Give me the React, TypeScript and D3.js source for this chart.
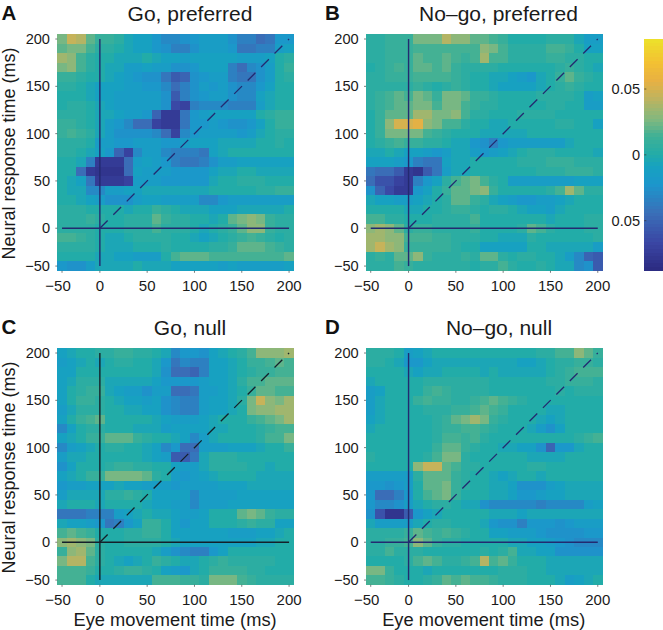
import React from "react";
import * as d3 from "d3";

// Cell values in units of 0.005, rows top (200 ms) to bottom (-40 ms), columns left (-40 ms) to right (200 ms)
const valueUnit = 0.005;
const goPreferred = [
  [5,9,8,4,2,2,1,-1,-2,-2,-4,-6,-6,-5,-4,-3,-3,-3,-5,-7,-7,-9,-8,-4,-4],
  [4,5,5,3,1,1,0,-1,-2,-2,-4,-5,-7,-7,-5,-3,-3,-3,-4,-8,-8,-7,-7,-3,-2],
  [7,6,3,1,0,0,-1,-1,-1,0,-1,-2,-2,-3,-2,-2,-2,-2,-2,-3,-3,-3,-2,0,1],
  [5,6,3,1,0,-1,-1,-3,-3,-2,-3,-3,-5,-5,-4,-2,-2,-2,-7,-9,-6,-5,-3,0,2],
  [2,2,1,0,0,-1,-2,-3,-4,-5,-5,-8,-11,-10,-5,-4,-3,-3,-7,-8,-8,-5,-3,0,1],
  [1,1,0,-1,-2,-2,-2,-3,-3,-4,-4,-6,-9,-7,-5,-3,-4,-3,-5,-6,-6,-4,-2,0,0],
  [0,0,0,-1,-2,-2,-3,-3,-3,-3,-3,-5,-11,-7,-5,-4,-3,-3,-5,-6,-6,-2,-1,0,0],
  [0,1,1,0,-1,-2,-3,-3,-3,-3,-3,-5,-13,-14,-7,-6,-6,-6,-7,-7,-7,-3,-1,0,0],
  [1,1,1,0,-1,-1,-2,-3,-3,-4,-10,-15,-15,-8,-4,-3,-2,-2,-2,-2,-2,0,1,2,2],
  [2,2,1,0,-1,-3,-4,-6,-9,-9,-14,-15,-15,-8,-4,-4,-3,-4,-5,-5,-4,-2,0,2,2],
  [2,3,2,1,-1,-3,-5,-5,-5,-5,-6,-9,-14,-6,-4,-3,-3,-3,-3,-4,-3,-1,0,1,1],
  [1,1,1,0,-3,-3,-4,-4,-3,-3,-3,-4,-4,-3,-2,-2,-2,-1,-1,-1,-1,0,0,1,0],
  [1,1,0,-1,-2,-4,-10,-14,-6,-3,-3,-6,-7,-7,-7,-8,-2,-1,0,0,0,0,0,0,0],
  [0,0,-1,-7,-15,-15,-15,-9,-3,-2,-3,-4,-7,-8,-8,-7,-5,-3,-3,-2,-2,-2,-2,-2,-2],
  [0,0,-9,-15,-16,-16,-16,-9,-2,-3,-3,-3,-4,-4,-4,-4,-2,-1,-1,0,0,-1,-1,-1,-1],
  [0,-1,-2,-8,-15,-15,-15,-14,-3,-3,-3,-4,-4,-4,-4,-4,-1,0,0,1,1,1,0,0,0],
  [0,-1,-1,-6,-6,-3,-3,-2,-2,-1,-1,-1,-1,-1,-1,-1,0,0,0,0,0,1,1,2,2],
  [0,0,-1,-2,-3,-5,-5,-5,-3,-2,-2,-3,-3,-3,-3,-6,-6,-4,-3,-3,-3,-3,-3,-3,-3],
  [1,1,1,0,0,0,0,-1,0,0,2,1,0,-1,-1,-1,-2,-2,-2,-1,-1,-1,-1,-1,0],
  [1,1,1,2,1,0,0,1,1,1,4,2,1,1,0,0,-1,0,4,5,6,5,2,1,1],
  [1,1,1,1,0,0,0,1,1,1,3,1,1,1,0,-1,0,1,2,4,6,6,2,1,1],
  [3,3,2,1,0,-1,-1,0,1,1,1,1,0,0,-1,-2,-1,0,1,2,3,2,1,0,1],
  [1,1,1,1,0,-1,-1,-1,0,0,0,1,0,0,0,0,1,1,2,4,4,4,3,2,1],
  [0,0,0,0,-1,-1,-2,-2,-3,-3,-3,0,3,4,4,4,3,3,3,3,3,3,3,3,4],
  [-4,-5,-5,-3,-1,-1,-1,-1,0,-1,-1,-1,-2,-2,-2,-2,-2,-3,-2,-3,-3,-3,-3,-3,-2],
];
const noGoPreferred = [
  [1,1,2,2,2,5,5,5,8,6,6,4,4,3,2,0,0,0,0,1,1,1,-1,-3,-3],
  [1,1,2,2,2,3,3,3,3,3,3,3,6,5,3,1,1,1,1,3,3,2,0,-2,-2],
  [1,1,2,2,2,4,3,3,4,3,2,3,7,3,3,1,1,1,1,2,2,1,1,0,0],
  [0,1,2,3,2,4,4,3,4,2,1,1,1,1,0,0,0,0,0,0,1,2,1,0,-1],
  [1,1,2,2,2,3,3,3,3,2,1,0,0,-1,-1,-2,-3,-4,-1,0,2,4,2,1,0],
  [1,1,1,1,1,2,1,0,1,2,1,0,0,-1,-2,-2,-2,-2,-1,0,1,2,1,0,0],
  [1,2,3,4,3,5,4,2,5,5,4,2,2,1,0,0,0,0,1,1,1,1,0,-3,-2],
  [1,2,3,4,4,5,5,3,5,5,3,2,1,1,0,0,0,0,0,1,1,0,0,-3,-3],
  [0,2,4,4,4,7,7,5,5,6,3,1,1,0,0,0,1,1,1,1,0,0,0,0,0],
  [0,2,6,10,10,11,6,5,3,3,1,0,0,-1,-1,0,0,0,0,0,1,1,0,0,-2],
  [0,2,5,5,5,5,3,2,1,0,0,0,-1,-1,-1,-1,-1,0,0,0,0,0,0,0,0],
  [0,1,2,3,2,2,1,1,0,-1,-1,-4,-5,-7,-4,-3,-3,-3,-3,-3,-3,-1,0,0,0],
  [-1,-1,0,-1,-2,-2,-3,-4,-3,-1,-1,-3,-4,-3,-2,-1,0,1,1,1,0,0,0,0,-1],
  [-2,-2,-2,-3,-4,-7,-8,-8,-2,-1,-1,0,0,0,0,0,1,1,1,2,2,2,1,1,1],
  [-8,-9,-9,-11,-15,-16,-11,-8,-3,-1,-1,0,0,0,0,0,0,0,1,1,1,2,2,2,1],
  [-9,-12,-12,-14,-15,-7,-4,-2,1,3,4,5,3,1,0,-3,-3,-3,-3,-3,-3,-3,-2,-2,-2],
  [-5,-10,-13,-15,-15,-4,-2,0,2,4,4,5,6,2,0,0,0,0,0,1,3,7,4,1,1],
  [-1,-2,-2,-3,-3,-2,-1,0,1,4,4,2,1,-1,-2,-3,-4,-4,-3,-3,-2,-1,0,0,0],
  [0,0,0,0,-1,-1,0,0,1,2,2,1,0,1,1,0,-1,-2,-2,-3,-1,0,0,0,0],
  [3,3,1,1,0,0,0,1,1,1,1,3,0,0,0,0,0,0,0,-1,0,0,0,1,1],
  [6,7,6,4,1,2,2,1,1,1,1,2,0,0,0,0,1,4,3,1,0,0,0,1,1],
  [7,7,6,6,3,3,3,2,2,1,1,1,0,0,-1,-1,-1,1,0,0,0,0,0,0,1],
  [7,9,7,6,2,2,2,2,2,1,0,0,-2,-2,-2,-2,-2,0,0,-1,-1,-1,-1,-1,-3],
  [1,2,1,4,4,6,2,1,1,1,2,1,4,4,1,0,1,1,0,0,-1,-3,-6,-10,-11],
  [1,1,1,3,2,1,1,1,1,1,1,0,1,1,3,1,0,0,1,0,-1,-1,-6,-5,-11],
];
const goNull = [
  [-2,-1,0,0,1,1,2,2,1,1,0,-1,-6,-4,-4,-5,-2,-1,0,1,3,6,6,6,7],
  [-3,-2,-1,0,-1,0,1,1,0,0,-1,-4,-8,-6,-7,-7,-2,-2,-1,0,2,2,3,4,3],
  [-2,-2,0,0,0,0,0,0,0,0,-1,-5,-9,-9,-10,-7,-2,-2,-1,0,1,2,2,3,3],
  [-2,-1,1,1,1,-1,-1,-1,-1,-1,-2,-4,-4,-4,-4,-3,-2,-2,-1,1,3,3,4,4,4],
  [-2,0,1,2,2,-1,-2,-3,-3,-5,-3,-3,-9,-9,-8,-3,-3,-2,-1,0,2,4,4,3,3],
  [-2,0,2,2,1,0,-1,-2,-2,-3,-2,-5,-6,-7,-7,-3,-2,-2,-1,1,5,9,6,5,7],
  [-3,-1,1,1,1,0,0,-1,-1,-2,-2,-5,-6,-7,-7,-3,-2,-2,-1,0,5,6,6,7,7],
  [-2,0,2,3,4,0,0,0,0,0,-1,-2,-3,-3,-3,-2,-1,0,0,0,2,3,4,5,7],
  [-6,-2,0,1,1,0,0,0,-1,-1,-1,-3,-2,-2,-2,-2,-1,-1,0,0,0,1,2,3,3],
  [-2,-1,0,2,2,4,4,4,2,1,0,0,-1,-2,-6,-3,-1,0,0,0,0,1,3,3,5],
  [-6,-3,-2,-1,0,1,1,0,0,-1,-2,-6,-4,-9,-9,-3,-3,-3,-2,-2,-2,-1,0,0,2],
  [-3,-1,-1,0,0,0,0,0,0,-1,-2,-3,-11,-11,-8,-1,1,1,1,0,0,0,0,0,0],
  [-5,-2,0,0,0,1,2,2,1,1,0,0,-2,-3,-3,-1,1,1,1,1,0,0,-1,0,0],
  [-2,-1,0,2,2,5,5,5,5,4,1,0,-3,-4,-3,-2,-1,0,0,0,0,-1,-1,-1,-1],
  [-4,-3,-3,-2,-2,-2,-1,-2,-2,-3,-3,-3,-4,-3,-3,-3,-3,-2,-2,-2,-1,-1,-1,-1,-1],
  [-3,-1,-1,-1,-1,1,1,2,1,0,-2,-2,-2,-2,-6,-3,-3,-3,-3,-2,-2,-2,-2,-2,-2],
  [-1,0,0,0,-1,0,0,0,0,-1,-2,-2,-3,-3,-6,-3,-3,-3,-2,-2,-2,-2,-2,-2,-2],
  [-8,-8,-8,-7,-7,-7,-3,-2,-1,0,-1,-1,-2,-3,-3,-2,0,0,0,4,5,4,2,1,1],
  [-1,-2,-2,-3,-4,-8,-7,-4,-2,2,2,0,-2,-4,-2,-2,0,0,0,1,2,1,1,-2,-2],
  [3,4,3,2,0,0,0,1,1,2,2,0,-2,-2,-2,-2,-2,-2,-3,-3,-3,-2,-2,-1,0],
  [6,7,6,5,1,0,0,1,1,1,1,0,-1,-2,-2,-2,-2,-2,-2,-2,-2,-1,-1,0,0],
  [2,6,7,4,1,0,0,0,0,0,-1,-3,-5,-6,-7,-7,-4,-2,0,0,0,0,0,0,0],
  [5,8,8,3,1,0,-1,-2,-1,0,2,1,0,-1,-1,0,1,2,1,1,1,1,1,0,0],
  [3,3,3,2,0,0,1,2,2,1,0,-2,-3,-4,-1,0,2,2,2,2,1,1,0,0,0],
  [3,3,3,0,-1,-1,-1,-1,-1,-1,3,3,3,2,2,1,5,5,5,3,2,1,1,1,1],
];
const noGoNull = [
  [1,1,1,0,-3,-2,-1,0,0,0,0,0,0,0,0,0,0,0,1,1,3,3,6,4,2],
  [1,1,0,-1,-4,-4,-2,-1,-1,-1,-1,-1,-1,-1,-1,-1,-2,-2,-1,0,1,1,2,2,1],
  [0,0,0,0,-1,-2,-1,-1,0,0,0,0,-1,0,-1,-1,-1,-1,-1,0,1,2,3,3,3],
  [-1,0,0,0,0,0,1,1,1,1,1,1,1,0,0,0,0,0,0,1,1,2,2,2,1],
  [-3,-2,0,0,0,0,2,3,2,1,1,1,1,0,0,0,0,0,0,0,1,0,1,1,1],
  [-3,-1,0,0,0,2,3,2,2,1,1,2,3,4,3,2,1,0,0,0,0,0,0,0,0],
  [-3,-1,0,0,0,0,1,1,1,2,2,3,4,3,2,0,0,0,0,-1,-1,0,0,0,0],
  [-2,-1,0,0,0,0,0,1,2,4,5,7,5,2,1,0,0,0,-1,-2,-1,0,0,0,0],
  [-1,0,0,0,0,0,0,1,2,2,3,3,2,1,0,0,0,-1,-3,-5,-2,0,0,0,0],
  [0,0,0,0,0,0,0,1,3,3,2,3,1,0,0,0,0,0,0,0,0,0,1,2,3],
  [0,0,0,0,0,0,0,2,4,4,2,1,0,0,-1,-1,-2,-2,-5,-10,-4,-4,-1,0,0],
  [1,0,0,0,0,0,1,3,5,5,1,0,0,0,0,0,0,-1,-1,-1,-1,0,0,0,0],
  [0,0,0,0,0,6,9,9,4,3,1,1,0,0,0,0,0,1,1,0,0,0,0,0,0],
  [-3,-3,-3,-3,-3,1,4,4,4,2,1,0,0,-1,-2,-1,0,0,-1,0,0,0,0,0,0],
  [-4,-4,-5,-4,-3,0,4,4,5,2,1,0,0,-1,-1,-2,-5,-5,-5,-3,-2,-1,-1,-1,-1],
  [-4,-9,-9,-7,-4,0,3,4,5,2,0,0,0,-1,-1,-2,-4,-4,-3,-2,-2,-1,-1,-1,-1],
  [-4,-6,-6,-5,-3,-1,0,1,1,0,-1,-1,-5,-6,-6,-6,-6,-6,-7,-6,-6,-6,-6,-3,-2],
  [-5,-12,-16,-16,-11,-4,-2,-1,0,0,0,0,0,-1,-1,-1,-2,-1,-1,-1,-1,-1,-1,-1,-1],
  [-1,-3,-3,-3,-3,-1,0,1,1,0,0,0,-1,-4,-5,-5,-7,-4,-4,-4,-5,-4,-3,-3,-3],
  [1,1,1,1,2,4,3,2,3,2,1,0,0,-2,-2,-3,-3,-3,-4,-5,-5,-5,-5,-4,-4],
  [1,1,2,2,3,6,4,2,1,1,0,0,0,0,0,-1,-1,-2,-2,-3,-4,-5,-6,-6,-6],
  [1,1,3,1,1,1,0,0,0,0,0,0,1,0,1,3,-1,-1,-2,-2,-5,-5,-5,-5,-5],
  [0,0,0,0,1,3,4,3,1,1,2,3,8,3,4,2,0,0,0,-1,-1,-1,-1,-1,-1],
  [5,5,2,0,0,0,-1,0,0,0,0,0,0,0,1,1,1,0,0,-1,-1,-1,-1,-1,-1],
  [3,3,2,1,0,0,1,2,4,3,4,3,3,2,1,1,1,0,0,0,-1,-3,-2,-1,0],
];
// The first tick sits on the first bin (-40 ms) in the original figure but is labelled -50
const tickPositions = [-40, 0, 50, 100, 150, 200];
const tickLabels = ["\u221250", "0", "50", "100", "150", "200"];
const colorbarTicks = [0.05, 0, -0.05];
const colorStops = ["#2b2a80","#3a46a4","#3a6fb8","#1c96cc","#17a2c0","#22aca8","#3fb096","#7fb880","#c3b35c","#e8b142","#f3c132","#ece22a"];
const colorStopPositions = [0,0.12,0.25,0.37,0.45,0.5,0.58,0.65,0.75,0.82,0.9,1];

const FONT = "'Liberation Sans', Arial, sans-serif";
const colorLimit = 0.088;
const position = d3.scaleLinear<string>().domain(colorStopPositions).range(colorStops).interpolate(d3.interpolateRgb);
const colorOf = (v: number) => position((v + colorLimit) / (2 * colorLimit));

type PanelProps = {
  data: number[][]; left: number; top: number; letter: string; title: string; titleX: number;
  lineColor: string; yLabel: boolean; xLabel: boolean; letterX: number;
};

function Panel({ data, left, top, letter, title, titleX, lineColor, yLabel, xLabel, letterX }: PanelProps) {
  const size = 236.5;
  const x = d3.scaleLinear().domain([-45, 205]).range([left, left + size]);
  const y = d3.scaleLinear().domain([-45, 205]).range([top + size, top]);
  const band = d3.scaleBand<number>().domain(d3.range(25)).range([0, size]);
  const line = d3.line<[number, number]>().x((d) => x(d[0])).y((d) => y(d[1]));
  return (
    <g fontFamily={FONT} fill="#1a1a1a">
      <g shapeRendering="crispEdges" filter="url(#soften)">
        {data.map((row, r) =>
          row.map((v, c) => (
            <rect key={r + "-" + c} x={left + band(c)!} y={top + band(r)!} width={band.bandwidth() + 0.3} height={band.bandwidth() + 0.3} fill={colorOf(v * valueUnit)} />
          ))
        )}
      </g>
      {tickPositions.map((t, i) => (
        <g key={t}>
          <line x1={x(t)} x2={x(t)} y1={top + size} y2={top + size + 2} stroke="#444" strokeWidth={0.7} />
          <line y1={y(t)} y2={y(t)} x1={left} x2={left - 2} stroke="#444" strokeWidth={0.7} />
          <text x={x(t) - (i === 0 ? 4 : 0)} y={top + size + 20.5} textAnchor="middle" fontSize={15}>{tickLabels[i]}</text>
          <text x={left - 7.3} y={y(t) + 5} textAnchor="end" fontSize={14.6}>{tickLabels[i]}</text>
        </g>
      ))}
      <path d={line([[0, -40], [0, 200]])!} stroke={lineColor} strokeWidth={1.4} fill="none" />
      <path d={line([[-40, 0], [200, 0]])!} stroke={lineColor} strokeWidth={1.4} fill="none" />
      <path d={line([[0, 0], [200, 200]])!} stroke={lineColor} strokeWidth={1.3} strokeDasharray="11 8" fill="none" />
      <text x={titleX} y={top - 13.5} textAnchor="middle" fontSize={21}>{title}</text>
      <text x={letterX} y={top - 14} fontSize={20.5} fontWeight="bold" fill="#111">{letter}</text>
      {yLabel && (
        <text transform={`translate(${left - 42},${top + size / 2 + 1}) rotate(-90)`} textAnchor="middle" fontSize={18}>Neural response time (ms)</text>
      )}
      {xLabel && (
        <text x={left + size / 2 - 0.5} y={top + size + 41.5} textAnchor="middle" fontSize={18.3}>Eye movement time (ms)</text>
      )}
    </g>
  );
}

export default function App() {
  const barY = d3.scaleLinear().domain([-colorLimit, colorLimit]).range([270.7, 39]);
  const steps = d3.range(64);
  const stepH = (270.7 - 39) / 64;
  return (
    <svg width={663} height={630} style={{ position: "absolute", left: 0, top: 0, display: "block", background: "#fff" }}>
      <defs>
        <filter id="soften" x="-2%" y="-2%" width="104%" height="104%" colorInterpolationFilters="sRGB">
          <feGaussianBlur stdDeviation={0.55} />
        </filter>
      </defs>
      <Panel data={goPreferred} left={57.3} top={34.3} letter="A" title="Go, preferred" titleX={190} lineColor="#232a70" yLabel xLabel={false} letterX={1.5} />
      <Panel data={noGoPreferred} left={366} top={34.3} letter="B" title={"No\u2013go, preferred"} titleX={498.5} lineColor="#232a70" yLabel={false} xLabel={false} letterX={325} />
      <Panel data={goNull} left={57.3} top={348.3} letter="C" title="Go, null" titleX={190} lineColor="#14202a" yLabel xLabel letterX={1.5} />
      <Panel data={noGoNull} left={366} top={348.3} letter="D" title={"No\u2013go, null"} titleX={499} lineColor="#232a70" yLabel={false} xLabel letterX={325} />
      {steps.map((i) => (
        <rect key={i} x={644.3} width={18.4} y={39 + i * stepH} height={stepH + 0.4} fill={position(1 - (i + 0.5) / 64)} shapeRendering="crispEdges" />
      ))}
      {colorbarTicks.map((t) => (
        <g key={t} fontFamily={FONT} fill="#1a1a1a">
          <line x1={644.3} x2={646.3} y1={barY(t)} y2={barY(t)} stroke="#333" strokeWidth={0.7} />
          <text x={640} y={barY(t) + 5} textAnchor="end" fontSize={14.6}>{t === 0 ? "0" : Math.abs(t).toFixed(2)}</text>
        </g>
      ))}
    </svg>
  );
}
